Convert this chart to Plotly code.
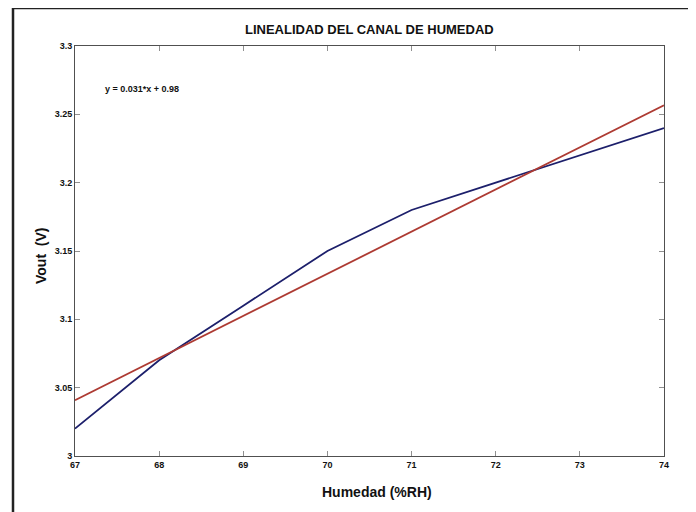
import numpy as np
import plotly.graph_objects as go

humedad = [67, 68, 69, 70, 71, 72, 73, 74]
vout = [3.02, 3.07, 3.11, 3.15, 3.18, 3.20, 3.22, 3.24]
x_ticks = [67, 68, 69, 70, 71, 72, 73, 74]
y_ticks = [3.0, 3.05, 3.1, 3.15, 3.2, 3.25, 3.3]
y_tick_labels = ["3", "3.05", "3.1", "3.15", "3.2", "3.25", "3.3"]
equation = "y = 0.031*x + 0.98"

slope, intercept = np.polyfit(humedad, vout, 1)
fit_x = [humedad[0], humedad[-1]]
fit_y = [slope * v + intercept for v in fit_x]

# page body margin offset
OFF = 8
W, H = 696 - OFF, 512 - OFF
# target plot area in window pixels: x 75..664, y 46..456
L, T = 75 - OFF, 46 - OFF
R = W - (664 - OFF)
B = H - (456 - OFF)
pw, ph = W - L - R, H - T - B

def px(xpix):
    return (xpix - OFF - L) / pw

def py(ypix):
    return (H - B - (ypix - OFF)) / ph

FONT = "Liberation Sans, Arial, sans-serif"

fig = go.Figure()
fig.add_trace(go.Scatter(x=humedad, y=vout, mode="lines",
                         line=dict(color="#1c1f6b", width=1.8), showlegend=False))
fig.add_trace(go.Scatter(x=fit_x, y=fit_y, mode="lines",
                         line=dict(color="#ad3a32", width=1.8), showlegend=False))

axis_common = dict(showgrid=False, zeroline=False, showline=True, mirror="ticks",
                   linecolor="#505050", linewidth=1, ticks="inside", ticklen=5,
                   tickcolor="#909090", tickfont=dict(family=FONT, size=9, color="#111"))

fig.update_xaxes(range=[67, 74], tickvals=x_ticks,
                 ticktext=["<b>%d</b>" % v for v in x_ticks], **axis_common)
fig.update_yaxes(range=[3.0, 3.3], tickvals=y_ticks,
                 ticktext=["<b>%s</b>" % t for t in y_tick_labels], **axis_common)

fig.add_annotation(text="<b>LINEALIDAD DEL CANAL DE HUMEDAD</b>", xref="paper", yref="paper",
                   x=0.5, y=py(30), showarrow=False, xanchor="center", yanchor="middle",
                   font=dict(family=FONT, size=13, color="#111"))
fig.add_annotation(text="<b>Humedad (%RH)</b>", xref="paper", yref="paper",
                   x=px(377), y=py(492), showarrow=False, xanchor="center", yanchor="middle",
                   font=dict(family=FONT, size=14, color="#111"))
fig.add_annotation(text="<b>Vout  (V)</b>", xref="paper", yref="paper",
                   x=px(41), y=py(256), showarrow=False, xanchor="center", yanchor="middle",
                   textangle=-90, font=dict(family=FONT, size=14, color="#111"))
fig.add_annotation(text="<b>" + equation + "</b>", xref="paper", yref="paper",
                   x=px(103), y=py(89), showarrow=False, xanchor="left", yanchor="middle",
                   font=dict(family=FONT, size=9, color="#111"))

fig.add_shape(type="rect", xref="paper", yref="paper",
              x0=px(13), x1=px(692), y0=py(530), y1=py(8),
              line=dict(color="#222", width=2.5), fillcolor="rgba(0,0,0,0)")

fig.update_layout(width=W, height=H,
                  margin=dict(l=L, r=R, t=T, b=B, autoexpand=False),
                  paper_bgcolor="white", plot_bgcolor="white")

fig.write_html("out.html")
